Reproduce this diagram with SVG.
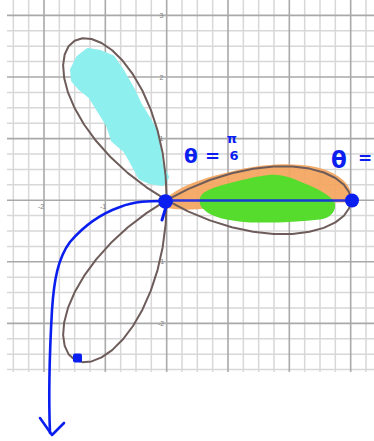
<svg xmlns="http://www.w3.org/2000/svg" xmlns:xlink="http://www.w3.org/1999/xlink" width="374" height="441" viewBox="0 0 374 441">
<style>
.minor{stroke:#d8d8d8;stroke-width:1.5;fill:none}
.major{stroke:#a9a9a9;stroke-width:1.6;fill:none}
.lbl{font-family:"Liberation Sans",Arial,sans-serif;font-size:7px;fill:#808080;text-anchor:middle;dominant-baseline:central}
.rose{fill:none;stroke:#6d5c5a;stroke-width:2;stroke-linejoin:round}
.ink{fill:none;stroke:#0a1ef0;stroke-linecap:round;stroke-linejoin:round}
.hand{font-family:"DejaVu Sans",sans-serif;font-weight:bold;fill:#0a1ef0}
</style>
<defs>
<path id="petal" d="M0,0L21.3,-11.1L43.2,-20.2L65.1,-27L86.5,-31.5L106.9,-33.7L125.8,-33.7L142.7,-31.6L157.1,-27.7L168.7,-22.2L177.2,-15.5L182.4,-8L184.2,0L182.4,8L177.2,15.5L168.7,22.2L157.1,27.7L142.7,31.6L125.8,33.7L106.9,33.7L86.5,31.5L65.1,27L43.2,20.2L21.3,11.1Z"/>
</defs>
<rect width="374" height="441" fill="#ffffff"/>
<g id="grid">
<path class="minor" d="M13.33,0V372M28.67,0V372M59.33,0V372M74.67,0V372M90,0V372M120.67,0V372M136,0V372M151.33,0V372M182,0V372M197.33,0V372M212.67,0V372M243.33,0V372M258.67,0V372M274,0V372M304.67,0V372M320,0V372M335.33,0V372M366,0V372"/>
<path class="minor" d="M7,30.8H374M7,46.2H374M7,61.6H374M7,92.4H374M7,107.8H374M7,123.2H374M7,154H374M7,169.4H374M7,184.8H374M7,215.6H374M7,231H374M7,246.4H374M7,277.2H374M7,292.6H374M7,308H374M7,338.8H374M7,354.2H374M7,369.6H374"/>
<path class="major" d="M44,0V372M105.33,0V372M166.67,0V372M228,0V372M289.33,0V372M350.67,0V372M7,15.4H374M7,77H374M7,138.6H374M7,200.2H374M7,261.8H374M7,323.4H374"/>
<text class="lbl" x="161.5" y="15.4">3</text>
<text class="lbl" x="161.5" y="77">2</text>
<text class="lbl" x="161.5" y="138">1</text>
<text class="lbl" x="161" y="261.8">-1</text>
<text class="lbl" x="161" y="323.4">-2</text>
<text class="lbl" x="41" y="206.5">-2</text>
<text class="lbl" x="103" y="206.5">-1</text>
<text class="lbl" x="228" y="207">1</text>
<text class="lbl" x="290" y="207">2</text>
</g>
<g id="shading">
<path d="M73,70L79,58L88,51L100,53L112,58L121,71L132,90L139,105L147,118L156,134L158,150L160,165L166,177L162,183L150,181L141,177L134,164L126,150L114,140L109,125L101,112L91,96L81,88L74,80Z" fill="#8eefef" stroke="#8eefef" stroke-width="6" stroke-linejoin="round"/>
<g transform="translate(166.7,200.2)">
<path d="M2,8L3,-5C20,-18 45,-24 70,-30C95,-36 125,-38 150,-33C170,-28 183,-18 185,-5L185,2L120,3L60,5C40,9 20,11 2,8Z" fill="#f4a45c" opacity="0.92"/>
<path d="M33,0C33,-8 45,-12 55,-15C70,-19 85,-23 100,-25C115,-27 125,-22 135,-18C150,-12 162,-6 168,2C170,10 165,17 155,19C130,22 100,23 80,22C60,20 45,17 38,10C33,6 33,3 33,0Z" fill="#55dc2c"/>
</g>
</g>
<g id="rose" transform="translate(166.7,200.2)">
<use xlink:href="#petal" href="#petal" class="rose"/>
<use xlink:href="#petal" href="#petal" class="rose" transform="rotate(-120)"/>
<use xlink:href="#petal" href="#petal" class="rose" transform="rotate(120)"/>
</g>
<g id="connectors">
<path class="ink" d="M166.7,200.6L352,200.6" stroke-width="2.5" opacity="0.85"/>
<path class="ink" d="M163,201C150,201 135,201 120,207C100,214 82,228 70,242C58,258 54,280 52,310C50,345 48,385 50,433" stroke-width="2.6"/>
<path class="ink" d="M40,418L52,435L64,423" stroke-width="2.6"/>
<path class="ink" d="M166,207L162,220" stroke-width="3"/>
</g>
<g id="points">
<circle cx="165.5" cy="201.5" r="7.3" fill="#0a1ef0"/>
<circle cx="352" cy="200.5" r="7" fill="#0a1ef0"/>
<rect x="73" y="353.5" width="9" height="9" rx="2" fill="#0a1ef0"/>
</g>
<g id="annotations">
<text class="hand" x="184" y="163" font-size="20">θ</text>
<text class="hand" x="205" y="162" font-size="18">=</text>
<text class="hand" x="232" y="143" font-size="13" text-anchor="middle">π</text>
<text class="hand" x="234" y="160" font-size="13" text-anchor="middle">6</text>
<text class="hand" x="331" y="168" font-size="23">θ</text>
<text class="hand" x="358" y="164" font-size="17">=</text>
</g>
</svg>
